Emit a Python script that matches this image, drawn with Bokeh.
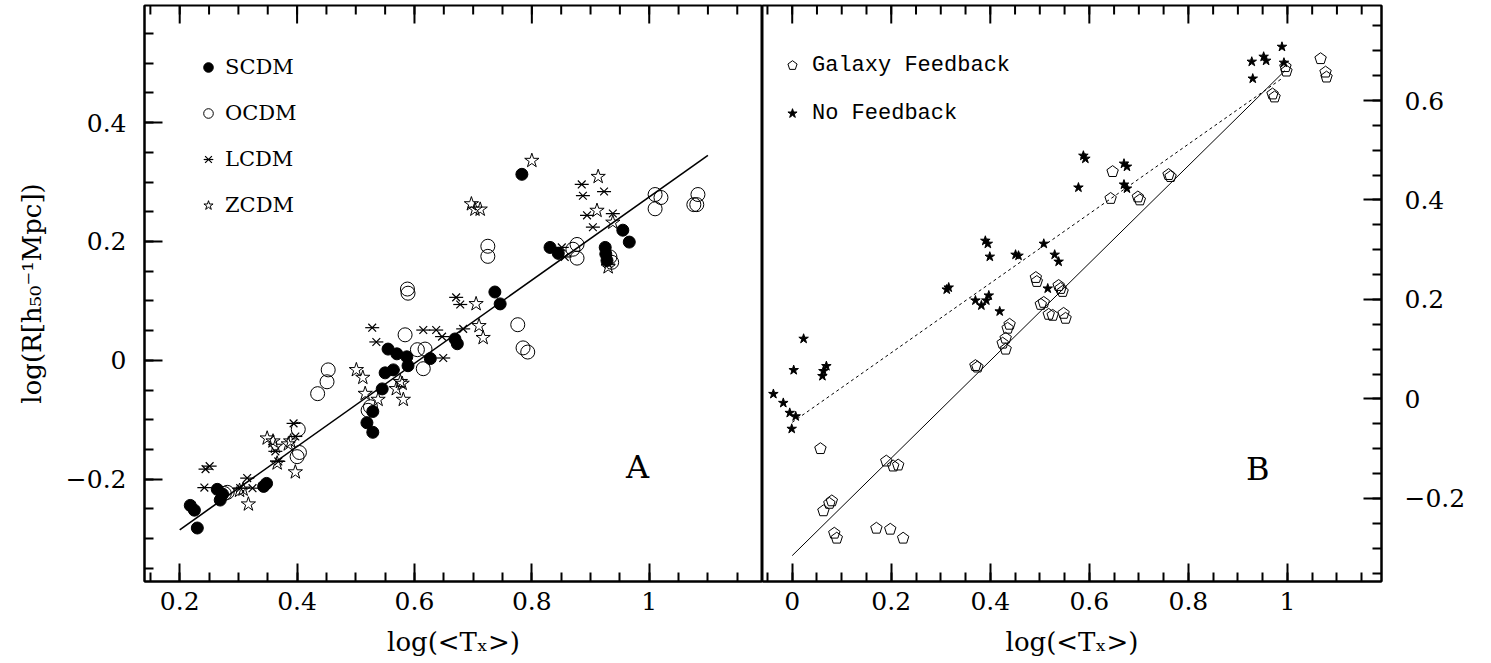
import numpy as np
from bokeh.plotting import figure
from bokeh.models import Range1d, FixedTicker, Legend, LegendItem, Label, ColumnDataSource
from bokeh.layouts import row
from bokeh.embed import file_html
from bokeh.resources import INLINE

FONT = "DejaVu Serif"

# ---------------- Panel A data ----------------
scdm_x = [0.218, 0.225, 0.230, 0.264, 0.269, 0.273, 0.343, 0.348, 0.519, 0.529, 0.529, 0.545, 0.550, 0.564,
          0.555, 0.570, 0.587, 0.589, 0.627, 0.669, 0.673, 0.737, 0.746, 0.783, 0.831, 0.845, 0.925, 0.926,
          0.928, 0.955, 0.966]
scdm_y = [-0.244, -0.252, -0.282, -0.217, -0.235, -0.225, -0.212, -0.207, -0.105, -0.086, -0.121, -0.048,
          -0.021, -0.016, 0.019, 0.011, 0.006, -0.009, 0.003, 0.036, 0.028, 0.115, 0.095, 0.313, 0.190, 0.180,
          0.190, 0.179, 0.168, 0.219, 0.199]

ocdm_x = [0.276, 0.281, 0.400, 0.404, 0.402, 0.435, 0.451, 0.453, 0.525, 0.521, 0.584, 0.588, 0.589, 0.605,
          0.618, 0.615, 0.725, 0.725, 0.776, 0.785, 0.793, 0.870, 0.877, 0.877, 0.933, 0.936, 1.010, 1.020,
          1.010, 1.083, 1.081, 1.076]
ocdm_y = [-0.224, -0.222, -0.162, -0.155, -0.116, -0.056, -0.036, -0.016, -0.078, -0.084, 0.043, 0.120, 0.113,
          0.018, 0.019, -0.014, 0.192, 0.175, 0.060, 0.021, 0.014, 0.187, 0.195, 0.172, 0.174, 0.165, 0.279,
          0.274, 0.255, 0.279, 0.262, 0.262]

lcdm_x = [0.244, 0.251, 0.242, 0.303, 0.315, 0.324, 0.394, 0.397, 0.363, 0.368, 0.563, 0.528, 0.535, 0.615,
          0.637, 0.647, 0.671, 0.678, 0.683, 0.649, 0.851, 0.856, 0.885, 0.887, 0.923, 0.894, 0.904, 0.938, 0.930]
lcdm_y = [-0.183, -0.178, -0.214, -0.215, -0.198, -0.215, -0.106, -0.128, -0.153, -0.170, -0.016, 0.055, 0.031,
          0.051, 0.051, 0.040, 0.106, 0.094, 0.053, 0.004, 0.190, 0.174, 0.296, 0.277, 0.284, 0.244, 0.224,
          0.247, 0.162]

zcdm_x = [0.349, 0.359, 0.363, 0.385, 0.389, 0.317, 0.397, 0.366, 0.302, 0.308, 0.501, 0.512, 0.538, 0.516,
          0.569, 0.581, 0.576, 0.800, 0.697, 0.703, 0.712, 0.913, 0.911, 0.705, 0.710, 0.717, 0.579, 0.938, 0.930]
zcdm_y = [-0.131, -0.136, -0.145, -0.141, -0.136, -0.242, -0.188, -0.173, -0.219, -0.217, -0.016, -0.029,
          -0.066, -0.056, -0.048, -0.066, -0.036, 0.336, 0.263, 0.254, 0.254, 0.309, 0.252, 0.095, 0.058,
          0.038, -0.039, 0.232, 0.157]

fitA_x = [0.2, 1.1]
fitA_y = [-0.285, 0.345]

# ---------------- Panel B data ----------------
gal_x = [0.057, 0.063, 0.075, 0.080, 0.085, 0.090, 0.170, 0.198, 0.224, 0.190, 0.204, 0.214,
         0.370, 0.374, 0.425, 0.431, 0.435, 0.439, 0.431, 0.492, 0.494, 0.502, 0.508, 0.518, 0.526,
         0.538, 0.542, 0.546, 0.548, 0.552, 0.643, 0.647, 0.698, 0.702, 0.760, 0.764,
         0.970, 0.974, 0.996, 0.998, 1.067, 1.077, 1.079]
gal_y = [-0.100, -0.225, -0.210, -0.205, -0.270, -0.280, -0.260, -0.262, -0.280, -0.125, -0.135, -0.133,
         0.067, 0.064, 0.112, 0.122, 0.142, 0.150, 0.100, 0.244, 0.236, 0.190, 0.194, 0.170, 0.168,
         0.228, 0.222, 0.216, 0.172, 0.162, 0.403, 0.457, 0.406, 0.400, 0.451, 0.447,
         0.613, 0.607, 0.668, 0.659, 0.684, 0.657, 0.647]

nofb_x = [-0.038, -0.018, -0.005, -0.001, 0.007, 0.003, 0.023, 0.061, 0.063, 0.069,
          0.312, 0.316, 0.370, 0.382, 0.392, 0.397, 0.390, 0.395, 0.399, 0.419, 0.451, 0.457,
          0.508, 0.516, 0.530, 0.538, 0.578, 0.588, 0.592, 0.670, 0.676, 0.670, 0.676,
          0.928, 0.930, 0.952, 0.957, 0.989, 0.993]
nofb_y = [0.010, -0.008, -0.028, -0.060, -0.035, 0.058, 0.121, 0.046, 0.056, 0.066,
          0.220, 0.224, 0.198, 0.188, 0.198, 0.208, 0.318, 0.312, 0.286, 0.176, 0.290, 0.288,
          0.312, 0.222, 0.290, 0.276, 0.425, 0.489, 0.483, 0.473, 0.467, 0.431, 0.423,
          0.678, 0.644, 0.688, 0.680, 0.708, 0.676]

solidB_x = [0.0, 0.995]
solidB_y = [-0.315, 0.66]
dotB_x = [0.0, 0.99]
dotB_y = [-0.047, 0.645]

# ---------------- ticks ----------------
xA_ticks = [0.2, 0.4, 0.6, 0.8, 1.0]
xA_labels = ["0.2", "0.4", "0.6", "0.8", "1"]
yA_ticks = [-0.2, 0.0, 0.2, 0.4]
yA_labels = ["\u22120.2", "0", "0.2", "0.4"]
xB_ticks = [0.0, 0.2, 0.4, 0.6, 0.8, 1.0]
xB_labels = ["0", "0.2", "0.4", "0.6", "0.8", "1"]
yB_ticks = [-0.2, 0.0, 0.2, 0.4, 0.6]
yB_labels = ["\u22120.2", "0", "0.2", "0.4", "0.6"]

xA_lim = (0.14, 1.193)
yA_lim = (-0.372, 0.597)
xB_lim = (-0.06, 1.19)
yB_lim = (-0.367, 0.791)


def minor(lo, hi):
    return [round(v, 3) for v in np.arange(lo, hi + 1e-9, 0.05)]


FRAME_H = 576


def make_fig(xr, yr, fw, left, right, yloc):
    p = figure(frame_width=fw, frame_height=FRAME_H, x_range=Range1d(*xr), y_range=Range1d(*yr),
               output_backend="svg", toolbar_location=None, y_axis_location=yloc,
               min_border_left=left, min_border_right=right, min_border_top=5, min_border_bottom=0)
    p.grid.visible = False
    p.outline_line_color = "black"
    p.outline_line_width = 2
    return p


def style_axis(ax, ticks, labels, mticks):
    ax.ticker = FixedTicker(ticks=ticks, minor_ticks=mticks)
    ax.major_tick_in = 18
    ax.major_tick_out = 0
    ax.minor_tick_in = 9
    ax.minor_tick_out = 0
    ax.major_tick_line_width = 2
    ax.minor_tick_line_width = 2
    ax.axis_line_width = 2
    ax.major_tick_line_color = "black"
    ax.minor_tick_line_color = "black"
    ax.axis_line_color = "black"
    ax.major_label_overrides = dict(zip(ticks, labels))
    ax.major_label_text_font = FONT
    ax.major_label_text_font_size = "25px"
    ax.major_label_text_color = "black"
    ax.axis_label_text_font = FONT
    ax.axis_label_text_font_size = "26px"
    ax.axis_label_text_font_style = "normal"
    ax.axis_label_text_color = "black"


def top_ticks(p, ticks, mticks, top):
    # inward tick marks along the top edge of the frame
    p.ray(x=mticks, y=[top] * len(mticks), length=9, length_units="screen", angle=-np.pi / 2,
          line_color="black", line_width=2)
    p.ray(x=ticks, y=[top] * len(ticks), length=18, length_units="screen", angle=-np.pi / 2,
          line_color="black", line_width=2)


# ---------------- Panel A ----------------
pA = make_fig(xA_lim, yA_lim, 618, 144, 0, "left")
style_axis(pA.xaxis[0], xA_ticks, xA_labels, minor(0.15, 1.15))
style_axis(pA.yaxis[0], yA_ticks, yA_labels, minor(-0.35, 0.55))
pA.xaxis[0].axis_label = "log(<T\u2093>)"
pA.xaxis[0].major_label_standoff = 10
pA.xaxis[0].axis_label_standoff = 14
pA.yaxis[0].axis_label = "log(R[h\u2085\u2080\u207b\u00b9Mpc])"
pA.yaxis[0].major_label_standoff = 18
pA.yaxis[0].axis_label_standoff = 16
top_ticks(pA, xA_ticks, minor(0.15, 1.15), yA_lim[1])

pA.line(fitA_x, fitA_y, line_color="black", line_width=1.6)
rA1 = pA.scatter(scdm_x, scdm_y, marker="circle", size=12, fill_color="black", line_color="black")
rA2 = pA.scatter(ocdm_x, ocdm_y, marker="circle", size=14, fill_color=None, line_color="black", line_width=1)
rA3a = pA.scatter(lcdm_x, lcdm_y, marker="dash", size=14, line_color="black", line_width=1.2)
rA3b = pA.scatter(lcdm_x, lcdm_y, marker="x", size=11, line_color="black", line_width=1.2)
rA4 = pA.scatter(zcdm_x, zcdm_y, marker="star", size=15, fill_color=None, line_color="black", line_width=1)

legA = Legend(items=[LegendItem(label="SCDM", renderers=[rA1]),
                     LegendItem(label="OCDM", renderers=[rA2]),
                     LegendItem(label="LCDM", renderers=[rA3a, rA3b]),
                     LegendItem(label="ZCDM", renderers=[rA4])],
              location=(52, 363), border_line_color=None, background_fill_alpha=0, padding=0, margin=0,
              glyph_width=24, glyph_height=24, label_height=26, spacing=20, label_standoff=5,
              label_text_font=FONT, label_text_font_size="21px", label_text_color="black")
pA.add_layout(legA)
pA.add_layout(Label(x=0.98, y=-0.18, text="A", text_font=FONT, text_font_size="32px",
                    text_align="center", text_baseline="middle", text_color="black"))

# ---------------- Panel B ----------------
pB = make_fig(xB_lim, yB_lim, 619, 0, 100, "right")
style_axis(pB.xaxis[0], xB_ticks, xB_labels, minor(-0.05, 1.15))
style_axis(pB.yaxis[0], yB_ticks, yB_labels, minor(-0.35, 0.75))
pB.xaxis[0].axis_label = "log(<T\u2093>)"
pB.xaxis[0].major_label_standoff = 10
pB.xaxis[0].axis_label_standoff = 14
pB.yaxis[0].major_label_standoff = 23
top_ticks(pB, xB_ticks, minor(-0.05, 1.15), yB_lim[1])

pB.line(solidB_x, solidB_y, line_color="black", line_width=1)
pB.line(dotB_x, dotB_y, line_color="black", line_width=1, line_dash="3 3")
srcG = ColumnDataSource(dict(x=gal_x, y=gal_y))
try:
    rB1 = pB.ngon(x="x", y="y", radius=6, radius_units="screen", n=5, source=srcG,
                  fill_color=None, line_color="black", line_width=1)
except Exception:
    rB1 = pB.scatter(x="x", y="y", source=srcG, marker="hex", size=11, fill_color=None,
                     line_color="black", line_width=1)
rB2 = pB.scatter(nofb_x, nofb_y, marker="star", size=10, fill_color="black", line_color="black")

legB = Legend(items=[LegendItem(label="Galaxy Feedback", renderers=[rB1]),
                     LegendItem(label="No Feedback", renderers=[rB2])],
              location=(18, 455), border_line_color=None, background_fill_alpha=0, padding=0, margin=0,
              glyph_width=24, glyph_height=24, label_height=26, spacing=22, label_standoff=8,
              label_text_font="Liberation Mono", label_text_font_size="22px", label_text_color="black")
pB.add_layout(legB)
pB.add_layout(Label(x=0.94, y=-0.14, text="B", text_font=FONT, text_font_size="32px",
                    text_align="center", text_baseline="middle", text_color="black"))

layout = row(pA, pB, spacing=0)
open("out.html", "w").write(file_html(layout, INLINE))
